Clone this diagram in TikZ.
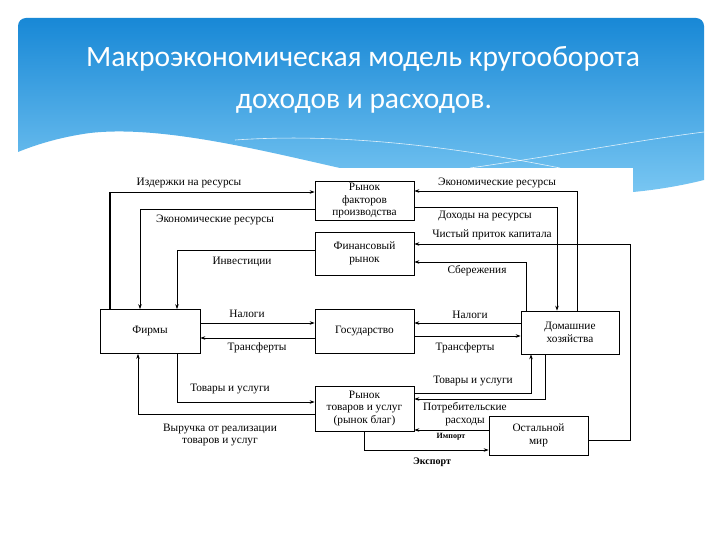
\documentclass[tikz,border=0pt]{standalone}
\usepackage{fontspec}
\setmainfont{Liberation Serif}
\newfontfamily\titlefont{Carlito}
\usetikzlibrary{arrows.meta,calc}
\definecolor{bluetop}{RGB}{24,136,214}
\definecolor{bluebot}{RGB}{120,198,242}
\begin{document}
\begin{tikzpicture}[x=1pt,y=-1pt,
  box/.style={draw, line width=0.7pt, minimum width=99pt, align=center,
    font=\fontsize{11.3}{12.5}\selectfont, inner sep=1pt},
  arr/.style={line width=0.6pt, -{Stealth[length=5pt,width=3.5pt]}},
  lbl/.style={font=\fontsize{11.3}{12.5}\selectfont, align=center, inner sep=0pt},
  small/.style={font=\fontsize{8}{9}\selectfont\bfseries, inner sep=0pt},
  ttl/.style={font=\titlefont\fontsize{29.5}{32}\selectfont, text=white, inner sep=0pt, anchor=base}]
\useasboundingbox (0,0) rectangle (720,540);
\fill[white] (0,0) rectangle (720,540);
% header panel
\shade[top color=bluetop, bottom color=bluebot]
  (18,152) -- (18,26) arc[start angle=180,end angle=90,radius=8pt] -- (696,18)
  arc[start angle=90,end angle=0,radius=8pt] -- (704,180)
  .. controls (680,186) and (655,190) .. (633,192) -- (633,168) -- (340,168)
  .. controls (260,150) and (160,125) .. (90,133)
  .. controls (60,137) and (35,145) .. (18,152) -- cycle;
\draw[white, line width=0.6pt, opacity=0.8] (235,140) .. controls (350,132) and (470,150) .. (560,168);
\draw[white, line width=0.6pt, opacity=0.8] (470,168) .. controls (560,155) and (640,140) .. (704,132);
\node[ttl] (t1) at (363,67) {Макроэкономическая модель кругооборота};
\node[ttl] (t2) at (364,109) {доходов и расходов.};
% boxes
\node[box, minimum width=100pt, minimum height=44pt] (firms) at (150,331.5) {Фирмы};
\node[box, minimum height=44pt] (gov) at (364.5,331) {Государство};
\node[box, minimum width=98pt, minimum height=43pt] (hh) at (570,332.5) {Домашние\\хозяйства};
\node[box, minimum height=39pt] (rf) at (364.5,201) {Рынок\\факторов\\производства};
\node[box, minimum height=43pt] (fin) at (364.5,253.5) {Финансовый\\рынок};
\node[box, minimum height=45pt] (rt) at (364.5,408.5) {Рынок\\товаров и услуг\\(рынок благ)};
\node[box, minimum height=39pt] (rw) at (538.5,435.5) {Остальной\\мир};
\coordinate (c1) at (110,192);
\coordinate (c2) at (630,440);
\coordinate (c3) at (630,244);
% connectors
\draw[line width=1.5pt] (firms.north -| c1) -- (c1);
\draw[arr] (c1) -- (rf.west |- c1);
\draw[arr] (rf.west |- 0,209) -| (firms.north -| 140,0);
\draw[arr] (fin.west |- 0,250) -| (firms.north -| 177,0);
\draw[arr] (firms.east |- 0,323) -- (gov.west |- 0,323);
\draw[arr] (gov.west |- 0,338) -- (firms.east |- 0,338);
\draw[arr] (hh.west |- 0,323) -- (gov.east |- 0,323);
\draw[arr] (gov.east |- 0,336) -- (hh.west |- 0,336);
\draw[arr] (firms.south -| 177,0) |- (rt.west |- 0,402);
\draw[arr] (rt.west |- 0,414) -| (firms.south -| 138,0);
\draw[arr] (hh.north -| 577,0) |- (rf.east |- 0,191);
\draw[arr] (rf.east |- 0,207) -| (hh.north -| 557,0);
\draw[arr] (rw.east |- c2) -- (c2) -- (c3) -- (fin.east |- c3);
\draw[arr] (hh.north -| 526,0) |- (fin.east |- 0,262);
\draw[arr] (rt.east |- 0,393) -| (hh.south -| 531,0);
\draw[arr] (hh.south -| 545,0) |- (rt.east |- 0,399);
\draw[arr] (rw.west |- 0,430) -- (rt.east |- 0,430);
\draw[arr] (rt.south -| 364,0) |- (rw.west |- 0,450);
% labels
\node[lbl] (l1) at (189,183) {Издержки на ресурсы};
\node[lbl] (l2) at (215,220) {Экономические ресурсы};
\node[lbl] (l3) at (242,262) {Инвестиции};
\node[lbl] (l4) at (247,314) {Налоги};
\node[lbl] (l5) at (257,348) {Трансферты};
\node[lbl] (l6) at (470,315) {Налоги};
\node[lbl] (l7) at (465,348) {Трансферты};
\node[lbl] (l8) at (230,389) {Товары и услуги};
\node[lbl] (l9) at (220,435) {Выручка от реализации\\товаров и услуг};
\node[lbl] (l10) at (497,183) {Экономические ресурсы};
\node[lbl] (l11) at (485,216) {Доходы на ресурсы};
\node[lbl] (l12) at (492,235) {Чистый приток капитала};
\node[lbl] (l13) at (477,271) {Сбережения};
\node[lbl] (l14) at (473,381) {Товары и услуги};
\node[lbl] (l15) at (465,414) {Потребительские\\расходы};
\node[small] (l16) at (451,437) {Импорт};
\node[small, font=\fontsize{10}{11}\selectfont\bfseries] (l17) at (432,462) {Экспорт};
\end{tikzpicture}
\end{document}
